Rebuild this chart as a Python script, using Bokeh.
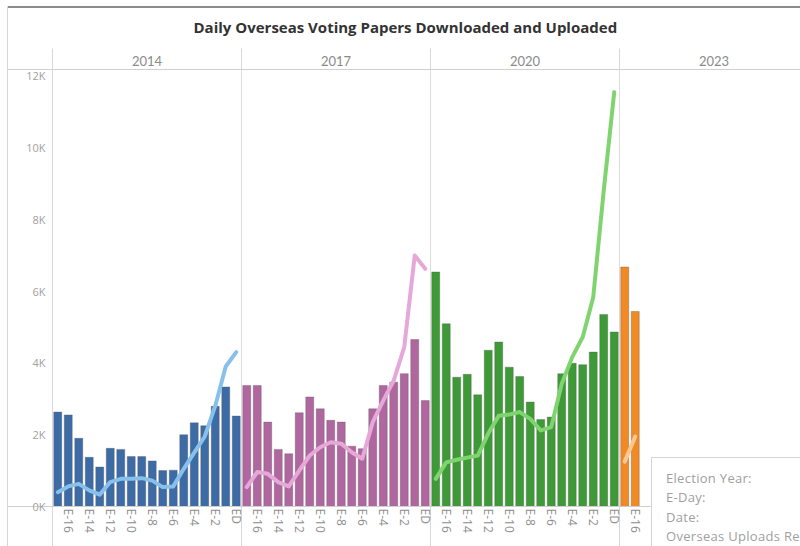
from bokeh.plotting import figure
from bokeh.models import Range1d, FixedTicker, LinearAxis, ColumnDataSource, Div
from bokeh.layouts import column
from bokeh.embed import file_html
from bokeh.resources import INLINE

# ---------------- data ----------------
years = ["2014", "2017", "2020", "2023"]
days = ["E-17", "E-16", "E-15", "E-14", "E-13", "E-12", "E-11", "E-10", "E-9",
        "E-8", "E-7", "E-6", "E-5", "E-4", "E-3", "E-2", "E-1", "ED"]
labelled_days = ["E-16", "E-14", "E-12", "E-10", "E-8", "E-6", "E-4", "E-2", "ED"]

downloads_2014 = [2630, 2550, 1900, 1370, 1100, 1620, 1590, 1390, 1390, 1270, 1000, 1010, 2000, 2330, 2250, 2790, 3330, 2520]
uploads_2014 = [400, 560, 630, 450, 330, 680, 770, 770, 790, 720, 540, 560, 1050, 1500, 1950, 2800, 3900, 4300]
downloads_2017 = [3370, 3370, 2350, 1590, 1470, 2610, 3050, 2720, 2400, 2350, 1680, 1610, 2720, 3370, 3460, 3700, 4650, 2950]
uploads_2017 = [540, 960, 910, 680, 560, 1000, 1420, 1650, 1790, 1750, 1510, 1330, 2350, 2950, 3510, 4440, 6990, 6620]
downloads_2020 = [6530, 5090, 3600, 3680, 3110, 4350, 4580, 3880, 3620, 2910, 2420, 2490, 3700, 3990, 3950, 4300, 5350, 4860]
uploads_2020 = [770, 1230, 1300, 1360, 1420, 2030, 2530, 2560, 2630, 2440, 2120, 2210, 3420, 4160, 4720, 5830, 8800, 11540]
downloads_2023 = [6670, 5430]
uploads_2023 = [1250, 1950]

y_ticks = [0, 2000, 4000, 6000, 8000, 10000, 12000]
y_tick_labels = ["0K", "2K", "4K", "6K", "8K", "10K", "12K"]

tooltip_fields = ["Election Year:", "E-Day:", "Date:", "Overseas Uploads Received:"]

downloads = [downloads_2014, downloads_2017, downloads_2020, downloads_2023]
uploads = [uploads_2014, uploads_2017, uploads_2020, uploads_2023]

bar_colors = ["#3d6ba6", "#b0679f", "#3e9a37", "#f28a24"]
line_colors = ["#88c0ec", "#e6a8d8", "#80d46f", "#fcc892"]

n = len(days)
font = "Lato"
tick_font = "Open Sans"

Y_END = 12170
p = figure(width=800, height=546,
           x_range=Range1d(-0.5, 70.74), y_range=Range1d(0, Y_END),
           output_backend="svg", toolbar_location=None,
           min_border_left=52, min_border_right=0,
           min_border_top=69, min_border_bottom=40)

p.outline_line_color = None
p.background_fill_color = "white"
p.border_fill_color = "white"

# title
p.title.text = "Daily Overseas Voting Papers Downloaded and Uploaded"
p.title.align = "left"
p.title.offset = 141
p.title.vertical_align = "middle"
p.title.text_font = "Open Sans"
p.title.text_font_style = "bold"
p.title.text_font_size = "15px"
p.title.text_color = "#333333"
p.title.standoff = 30

# grid: panel separators
p.ygrid.grid_line_color = None
p.xgrid.ticker = FixedTicker(ticks=[n * k - 0.5 for k in range(1, 4)])
p.xgrid.grid_line_color = "#dcdcdc"

# bars and lines
for k, yr in enumerate(years):
    xs = [n * k + i for i in range(len(downloads[k]))]
    src = ColumnDataSource(dict(x=xs, d=downloads[k], u=uploads[k]))
    p.vbar(x="x", top="d", width=0.76, source=src,
           fill_color=bar_colors[k], line_color="#555555", line_alpha=0.35, line_width=1)
    p.line(x="x", y="u", source=src, line_width=4, line_color=line_colors[k],
           line_join="round", line_cap="round")

# bottom axis (day labels); long minor ticks draw the panel dividers
bottom_ticks = []
bottom_overrides = {}
for k in range(len(years)):
    for i, d in enumerate(days):
        if d in labelled_days:
            pos = n * k + i
            bottom_ticks.append(pos)
            bottom_overrides[pos] = d
xa = p.xaxis[0]
xa.ticker = FixedTicker(ticks=bottom_ticks, minor_ticks=[n * k - 0.5 for k in range(4)])
xa.major_label_overrides = bottom_overrides
xa.major_label_orientation = "vertical"
xa.major_tick_out = 0
xa.major_tick_in = 0
xa.minor_tick_in = 0
xa.minor_tick_out = 40
xa.minor_tick_line_color = "#d8d8d8"
xa.axis_line_color = "#cfcfcf"
xa.major_label_text_font = tick_font
xa.major_label_text_font_size = "12px"
xa.major_label_text_color = "#8e8e8e"
xa.major_label_standoff = -38

# top axis (year headers)
top_ticks = [n * k + (n - 1) / 2 for k in range(len(years))]
top_axis = LinearAxis(
    ticker=FixedTicker(ticks=top_ticks, minor_ticks=[n * k - 0.5 for k in range(4)]),
    major_label_overrides={t: yr for t, yr in zip(top_ticks, years)})
top_axis.major_tick_out = 0
top_axis.major_tick_in = 0
top_axis.minor_tick_in = 0
top_axis.minor_tick_out = 21
top_axis.minor_tick_line_color = "#d8d8d8"
top_axis.axis_line_color = "#d0d0d0"
top_axis.major_label_text_font = font
top_axis.major_label_text_font_size = "13px"
top_axis.major_label_text_color = "#8a8a8a"
top_axis.major_label_standoff = -17
p.add_layout(top_axis, "above")

# left axis
ya = p.yaxis[0]
ya.ticker = FixedTicker(ticks=y_ticks, minor_ticks=[0, Y_END])
ya.major_label_overrides = {t: s for t, s in zip(y_ticks, y_tick_labels)}
ya.major_tick_out = 0
ya.major_tick_in = 0
ya.minor_tick_in = 0
ya.minor_tick_out = 45
ya.minor_tick_line_color = "#d0d0d0"
ya.axis_line_color = "#d8d8d8"
ya.major_label_text_font = tick_font
ya.major_label_text_font_size = "11px"
ya.major_label_text_color = "#a0a0a0"
ya.major_label_standoff = -38

# hover-card box shown in the lower right corner
tip = Div(text="<br>".join(tooltip_fields), width=154, height=94,
          styles={"position": "absolute", "left": "646px", "top": "452px",
                  "width": "154px", "height": "94px", "box-sizing": "border-box",
                  "background-color": "white", "border": "1px solid #d5d5d5",
                  "padding": "11px 0px 0px 14px", "font-family": "Open Sans",
                  "font-size": "13px", "letter-spacing": "0.3px",
                  "color": "#a0a0a0", "line-height": "19.3px",
                  "white-space": "nowrap", "overflow": "hidden", "z-index": "10"})

# dashboard frame lines (top and left edges)
frame_top = Div(text="", width=795, height=2,
                styles={"position": "absolute", "left": "2px", "top": "1px",
                        "width": "798px", "height": "2px",
                        "background-color": "#8c8c8c", "z-index": "11"})
frame_left = Div(text="", width=1, height=540,
                 styles={"position": "absolute", "left": "2px", "top": "1px",
                         "width": "1px", "height": "545px",
                         "background-color": "#d6d6d6", "z-index": "11"})

layout = column(p, tip, frame_top, frame_left)
open("out.html", "w").write(file_html(layout, INLINE))
